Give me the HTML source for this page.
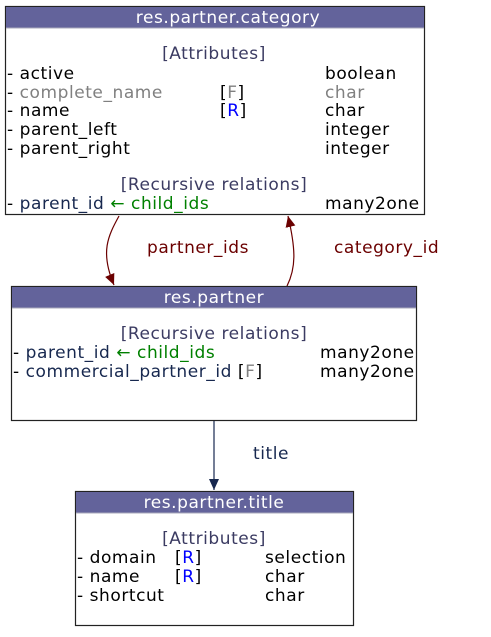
<!DOCTYPE html>
<html><head><meta charset="utf-8"><style>
html,body{margin:0;padding:0;background:#fff;}
svg text{font-family:"DejaVu Sans","Liberation Sans",sans-serif;font-size:17px;letter-spacing:0.55px;}
</style></head><body>
<svg width="491" height="632" viewBox="0 0 491 632" xmlns="http://www.w3.org/2000/svg">
<defs>
<marker id="ar" markerWidth="12" markerHeight="12" refX="11" refY="5" orient="auto" markerUnits="userSpaceOnUse"><path d="M0,0 L11,5 L0,10 z" fill="#6b0000"/></marker>
<marker id="ab" markerWidth="12" markerHeight="12" refX="11" refY="5" orient="auto" markerUnits="userSpaceOnUse"><path d="M0,0 L11,5 L0,10 z" fill="#17284f"/></marker>
</defs>
<!-- box 1 -->
<rect x="5.5" y="6.5" width="419" height="208" fill="#fff" stroke="#222" stroke-width="1.2"/>
<rect x="6" y="7" width="418" height="21" fill="#63639b"/>
<line x1="6" y1="28" x2="424" y2="28" stroke="#aab"/>
<text x="228" y="23" fill="#fff" text-anchor="middle">res.partner.category</text>
<text x="214" y="59" fill="#3b3b62" text-anchor="middle">[Attributes]</text>
<text x="7" y="79">- active</text><text x="325" y="79">boolean</text>
<text x="7" y="98" fill="#808080"><tspan fill="#000">- </tspan>complete_name</text>
<text x="220" y="98">[<tspan fill="#808080">F</tspan>]</text><text x="325" y="98" fill="#808080">char</text>
<text x="7" y="116">- name</text><text x="220" y="116">[<tspan fill="#0000ff">R</tspan>]</text><text x="325" y="116">char</text>
<text x="7" y="135">- parent_left</text><text x="325" y="135">integer</text>
<text x="7" y="154">- parent_right</text><text x="325" y="154">integer</text>
<text x="214" y="190" fill="#3b3b62" text-anchor="middle">[Recursive relations]</text>
<text x="7" y="209">- <tspan fill="#17284f">parent_id </tspan><tspan fill="#008000">← child_ids</tspan></text><text x="325" y="209">many2one</text>
<!-- edges -->
<path d="M119,216 C108,236 100,252 114,285" fill="none" stroke="#6b0000" stroke-width="1.2" marker-end="url(#ar)"/>
<text x="147" y="253" fill="#6b0000">partner_ids</text>
<path d="M287,286 C296,268 296,250 288,216" fill="none" stroke="#6b0000" stroke-width="1.2" marker-end="url(#ar)"/>
<text x="334" y="253" fill="#6b0000">category_id</text>
<line x1="214" y1="421" x2="214" y2="490" stroke="#17284f" stroke-width="1.2" marker-end="url(#ab)"/>
<text x="253" y="459" fill="#17284f">title</text>
<!-- box 2 -->
<rect x="11.5" y="286.5" width="405" height="134" fill="#fff" stroke="#222" stroke-width="1.2"/>
<rect x="12" y="287" width="404" height="21" fill="#63639b"/>
<line x1="12" y1="308" x2="416" y2="308" stroke="#aab"/>
<text x="214" y="303" fill="#fff" text-anchor="middle">res.partner</text>
<text x="214" y="339" fill="#3b3b62" text-anchor="middle">[Recursive relations]</text>
<text x="13" y="358">-  <tspan fill="#17284f">parent_id </tspan><tspan fill="#008000">← child_ids</tspan></text><text x="320" y="358">many2one</text>
<text x="13" y="377">-  <tspan fill="#17284f">commercial_partner_id </tspan>[<tspan fill="#808080">F</tspan>]</text><text x="320" y="377">many2one</text>
<!-- box 3 -->
<rect x="75.5" y="491.5" width="278" height="134" fill="#fff" stroke="#222" stroke-width="1.2"/>
<rect x="76" y="492" width="277" height="21" fill="#63639b"/>
<line x1="76" y1="513" x2="353" y2="513" stroke="#aab"/>
<text x="214" y="508" fill="#fff" text-anchor="middle">res.partner.title</text>
<text x="214" y="544" fill="#3b3b62" text-anchor="middle">[Attributes]</text>
<text x="77" y="563">-  domain</text><text x="175" y="563">[<tspan fill="#0000ff">R</tspan>]</text><text x="265" y="563">selection</text>
<text x="77" y="582">-  name</text><text x="175" y="582">[<tspan fill="#0000ff">R</tspan>]</text><text x="265" y="582">char</text>
<text x="77" y="601">-  shortcut</text><text x="265" y="601">char</text>
</svg>
</body></html>
